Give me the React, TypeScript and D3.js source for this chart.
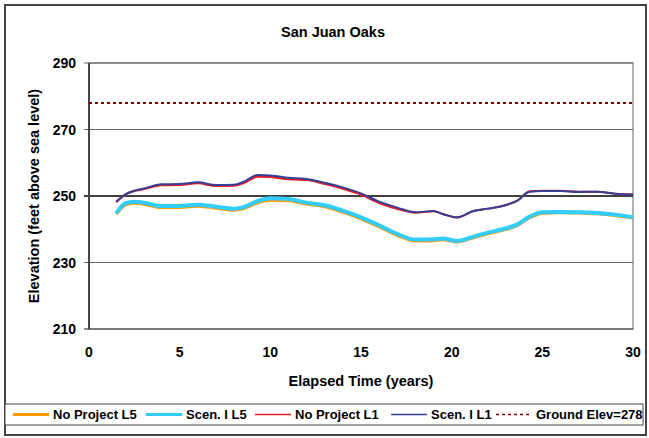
import React, { useEffect, useRef } from 'react';
import * as d3 from 'd3';

// elapsed time (years) shared by all well series
const years = [1.5, 2, 2.5, 3, 4, 5, 6, 7, 8, 8.5, 9.3, 10, 11, 12, 13, 14, 15, 16, 17, 18, 19, 19.5, 20.3, 21.2, 22, 23, 23.6, 24.3, 25, 26, 27, 28, 29, 30];

const noProjectL5 = [244.6, 247.5, 248.0, 247.7, 246.7, 246.7, 247.1, 246.5, 245.9, 246.3, 248.1, 248.9, 248.7, 247.7, 246.9, 245.3, 243.3, 240.9, 238.3, 236.6, 236.7, 237.0, 236.3, 237.6, 238.8, 240.1, 241.2, 243.6, 244.9, 245.1, 245.0, 244.8, 244.3, 243.5];
const scenL5 = [244.8, 247.8, 248.3, 248.0, 247.0, 247.0, 247.4, 246.8, 246.2, 246.6, 248.5, 249.3, 249.1, 248.0, 247.2, 245.6, 243.6, 241.2, 238.6, 236.9, 237.0, 237.2, 236.5, 237.8, 239.0, 240.3, 241.4, 243.8, 245.1, 245.2, 245.1, 244.9, 244.4, 243.6];
const noProjectL1 = [248.2, 250.4, 251.5, 252.0, 253.2, 253.3, 253.8, 253.0, 253.1, 253.8, 255.8, 255.7, 255.0, 254.8, 253.6, 252.2, 250.4, 247.9, 246.1, 245.0, 245.4, 244.6, 243.5, 245.5, 246.2, 247.3, 248.5, 251.4, 251.6, 251.6, 251.3, 251.3, 250.7, 250.5];
const scenL1 = [248.2, 250.5, 251.6, 252.2, 253.5, 253.6, 254.1, 253.3, 253.4, 254.2, 256.3, 256.2, 255.5, 255.1, 254.0, 252.6, 250.8, 248.3, 246.5, 245.1, 245.5, 244.6, 243.6, 245.5, 246.2, 247.3, 248.5, 251.3, 251.5, 251.5, 251.2, 251.3, 250.7, 250.4];
const groundElev = 278;

const xTicks = [0, 5, 10, 15, 20, 25, 30];
const yTicks = [210, 230, 250, 270, 290];

const series = [
  { name: 'No Project L5', values: noProjectL5, color: '#FF9900', width: 4 },
  { name: 'Scen. I L5', values: scenL5, color: '#33CCFF', width: 4 },
  { name: 'No Project L1', values: noProjectL1, color: '#EE1C25', width: 2 },
  { name: 'Scen. I L1', values: scenL1, color: '#343F96', width: 2 },
];

const W = 649;
const H = 438;
const font = '"Liberation Sans", Arial, sans-serif';

export default function App() {
  const ref = useRef<SVGSVGElement>(null);

  useEffect(() => {
    const svg = d3.select(ref.current);
    svg.selectAll('*').remove();

    const left = 89;
    const right = 633;
    const top = 63;
    const bottom = 329;

    const x = d3.scaleLinear().domain([0, 30]).range([left, right]);
    const y = d3.scaleLinear().domain([210, 290]).range([bottom, top]);

    // outer frame
    svg.append('rect')
      .attr('x', 5).attr('y', 5)
      .attr('width', W - 8).attr('height', H - 8)
      .attr('fill', '#fff')
      .attr('stroke', '#444').attr('stroke-width', 2);

    // title
    svg.append('text')
      .attr('x', 333).attr('y', 37)
      .attr('text-anchor', 'middle')
      .attr('font-family', font).attr('font-weight', 'bold').attr('font-size', 14.5)
      .text('San Juan Oaks');

    // plot frame + gridlines
    svg.append('rect')
      .attr('x', left).attr('y', top)
      .attr('width', right - left).attr('height', bottom - top)
      .attr('fill', 'none').attr('stroke', '#999').attr('stroke-width', 1.5);

    svg.append('g')
      .selectAll('line')
      .data(yTicks)
      .join('line')
      .attr('x1', left - 5).attr('x2', right)
      .attr('y1', d => y(d)).attr('y2', d => y(d))
      .attr('stroke', d => (d === 250 ? '#000' : '#666'))
      .attr('stroke-width', d => (d === 250 || d === 210 ? 1.6 : 1.2));

    // y axis line
    svg.append('line')
      .attr('x1', left).attr('x2', left)
      .attr('y1', top).attr('y2', bottom)
      .attr('stroke', '#444').attr('stroke-width', 2);

    // y tick labels
    svg.append('g')
      .selectAll('text')
      .data(yTicks)
      .join('text')
      .attr('x', 76).attr('y', d => y(d) + 5)
      .attr('text-anchor', 'end')
      .attr('font-family', font).attr('font-weight', 'bold').attr('font-size', 14)
      .text(d => d);

    // x tick labels
    svg.append('g')
      .selectAll('text')
      .data(xTicks)
      .join('text')
      .attr('x', d => x(d)).attr('y', 357)
      .attr('text-anchor', 'middle')
      .attr('font-family', font).attr('font-weight', 'bold').attr('font-size', 14)
      .text(d => d);

    // axis titles
    svg.append('text')
      .attr('x', 361).attr('y', 386)
      .attr('text-anchor', 'middle')
      .attr('font-family', font).attr('font-weight', 'bold').attr('font-size', 14.5)
      .text('Elapsed Time (years)');

    svg.append('text')
      .attr('transform', `translate(39,${(top + bottom) / 2}) rotate(-90)`)
      .attr('text-anchor', 'middle')
      .attr('font-family', font).attr('font-weight', 'bold').attr('font-size', 14.5)
      .text('Elevation (feet above sea level)');

    // series
    const line = d3.line<number>()
      .x((_, i) => x(years[i]))
      .y(d => y(d))
      .curve(d3.curveMonotoneX);

    series.forEach((s) => {
      svg.append('path')
        .datum(s.values)
        .attr('fill', 'none')
        .attr('stroke', s.color)
        .attr('stroke-width', s.width)
        .attr('stroke-linejoin', 'round')
        .attr('d', line);
    });

    // ground elevation
    svg.append('line')
      .attr('x1', left).attr('x2', right)
      .attr('y1', y(groundElev)).attr('y2', y(groundElev))
      .attr('stroke', '#800000').attr('stroke-width', 2)
      .attr('stroke-dasharray', '3,3');

    // legend
    const lg = svg.append('g');
    lg.append('rect')
      .attr('x', 5).attr('y', 404)
      .attr('width', 638).attr('height', 21)
      .attr('fill', '#fff').attr('stroke', '#444').attr('stroke-width', 1);

    const legendItems = [
      ...series.map(s => ({ name: s.name, color: s.color, width: s.width, dash: '' })),
      { name: `Ground Elev=${groundElev}`, color: '#800000', width: 2, dash: '3,3' },
    ];
    const lineStarts = [13, 146, 255, 391, 496];
    const legendY = 414.5;
    legendItems.forEach((it, i) => {
      const x0 = lineStarts[i];
      lg.append('line')
        .attr('x1', x0).attr('x2', x0 + 36)
        .attr('y1', legendY).attr('y2', legendY)
        .attr('stroke', it.color)
        .attr('stroke-width', it.width === 4 ? 3 : 1.5)
        .attr('stroke-dasharray', it.dash || null);
      lg.append('text')
        .attr('x', x0 + 40).attr('y', legendY + 4.5)
        .attr('font-family', font).attr('font-weight', 'bold').attr('font-size', 13)
        .text(it.name);
    });
  }, []);

  return (
    <div style={{ position: 'absolute', left: 0, top: 0 }}>
      <svg ref={ref} width={W} height={H} style={{ display: 'block' }} />
    </div>
  );
}
